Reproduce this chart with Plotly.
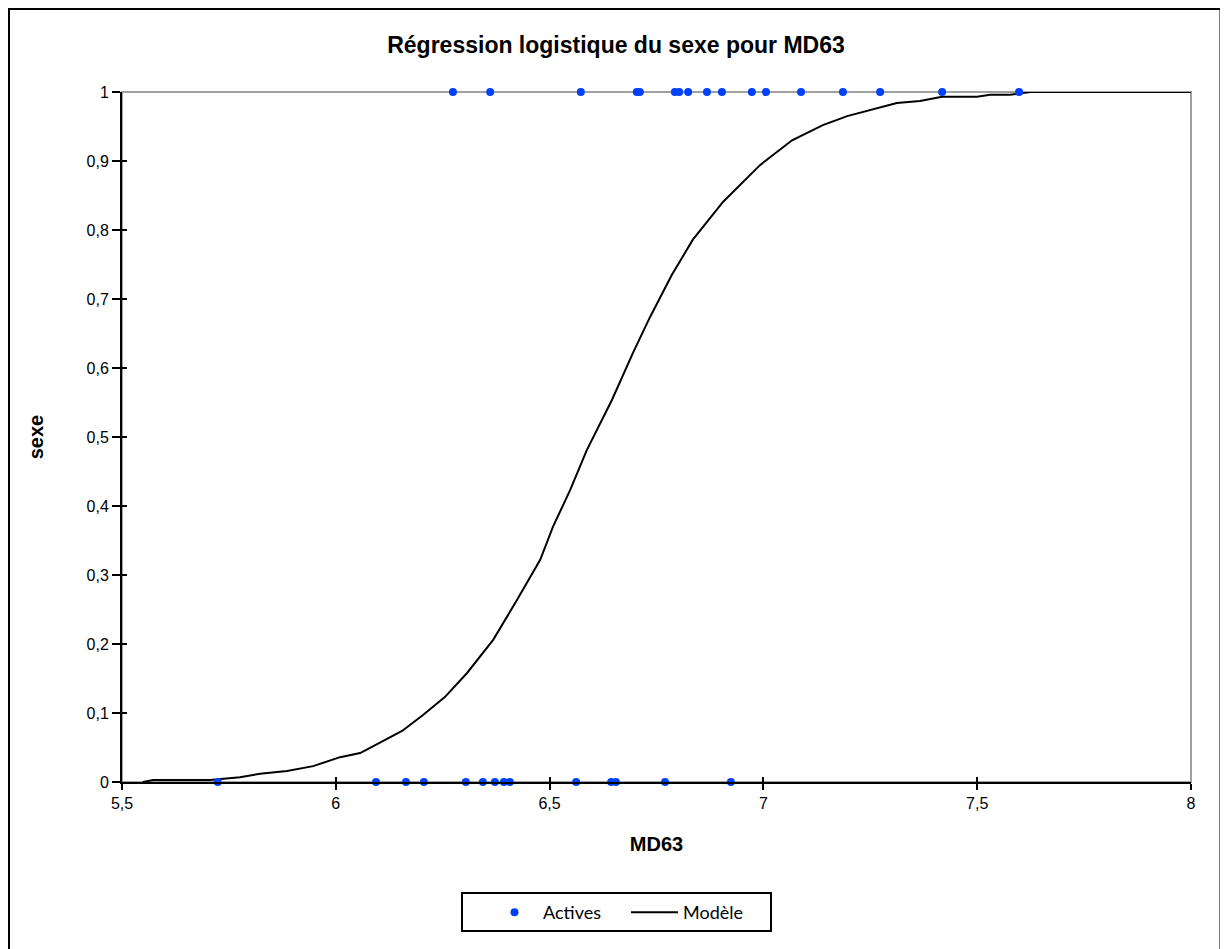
import plotly.graph_objects as go

# Observations (Actives)
actives_x_1 = [6.274, 6.361, 6.573, 6.704, 6.711, 6.793, 6.803, 6.824, 6.868, 6.903,
               6.973, 7.006, 7.088, 7.186, 7.273, 7.418, 7.598]
actives_x_0 = [5.724, 6.094, 6.164, 6.206, 6.304, 6.344, 6.372, 6.393, 6.407, 6.562,
               6.644, 6.655, 6.770, 6.924]

# Model curve (Modèle)
model_x = [5.549, 5.573, 5.706, 5.776, 5.823, 5.886, 5.947, 6.010, 6.057, 6.103,
           6.155, 6.204, 6.255, 6.307, 6.368, 6.424, 6.478, 6.508, 6.548, 6.587,
           6.625, 6.646, 6.695, 6.735, 6.786, 6.835, 6.906, 6.992, 7.067, 7.139,
           7.196, 7.249, 7.312, 7.366, 7.418, 7.500, 7.530, 7.577, 7.624, 8.000]
model_y = [0.000, 0.003, 0.003, 0.007, 0.012, 0.016, 0.023, 0.036, 0.042, 0.057,
           0.074, 0.097, 0.123, 0.158, 0.206, 0.264, 0.322, 0.370, 0.423, 0.481,
           0.529, 0.554, 0.622, 0.674, 0.735, 0.786, 0.841, 0.894, 0.930, 0.952,
           0.965, 0.974, 0.984, 0.987, 0.993, 0.993, 0.996, 0.996, 1.000, 1.000]

x_tickvals = [5.5, 6, 6.5, 7, 7.5, 8]
x_ticktext = ["5,5", "6", "6,5", "7", "7,5", "8"]
y_tickvals = [0, 0.1, 0.2, 0.3, 0.4, 0.5, 0.6, 0.7, 0.8, 0.9, 1]
y_ticktext = ["0", "0,1", "0,2", "0,3", "0,4", "0,5", "0,6", "0,7", "0,8", "0,9", "1"]

pts_x = actives_x_1 + actives_x_0
pts_y = [1] * len(actives_x_1) + [0] * len(actives_x_0)

BLUE = "#0040F8"
AX_FONT = "Liberation Sans, Arial, sans-serif"
LEG_FONT = "Lato, Liberation Sans, sans-serif"

# the page body has an 8px margin; the figure is sized to fill the rest
W, H = 1220, 941
L, R, T, B = 114, 37, 84, 167
PW, PH = W - L - R, H - T - B


def px_x(page_x):
    return (page_x - 8 - L) / PW


def px_y(page_y):
    return (T + PH - (page_y - 8)) / PH


fig = go.Figure()
fig.add_trace(go.Scatter(x=model_x, y=model_y, mode="lines", name="Modèle",
                         line=dict(color="black", width=2), xaxis="x", yaxis="y"))
fig.add_trace(go.Scatter(x=pts_x, y=pts_y, mode="markers", name="Actives",
                         marker=dict(color=BLUE, size=8), xaxis="x2", yaxis="y2",
                         cliponaxis=False))

xr = [5.5, 8]
yr = [0, 1]
common_x = dict(range=xr, tickvals=x_tickvals, ticktext=x_ticktext, showgrid=False,
                zeroline=False, tickwidth=2, tickcolor="black")
common_y = dict(range=yr, tickvals=y_tickvals, ticktext=y_ticktext, showgrid=False,
                zeroline=False, tickwidth=2, tickcolor="black")

fig.update_layout(
    width=W, height=H,
    margin=dict(l=L, r=R, t=T, b=B),
    paper_bgcolor="white", plot_bgcolor="white",
    title=dict(text="<b>Régression logistique du sexe pour MD63</b>",
               x=(616 - 8) / W, xref="container", xanchor="center",
               y=1 - (45 - 8) / H, yref="container", yanchor="middle",
               font=dict(family=AX_FONT, size=23, color="black")),
    xaxis=dict(**common_x, ticks="outside", ticklen=6, showline=True, linecolor="black",
               linewidth=2, tickfont=dict(family=AX_FONT, size=16, color="black"),
               title=dict(text="<b>MD63</b>", standoff=26,
                          font=dict(family=AX_FONT, size=20, color="black"))),
    yaxis=dict(**common_y, ticks="outside", ticklen=8, showline=True, linecolor="black",
               linewidth=2, tickfont=dict(family=AX_FONT, size=16, color="black"),
               title=dict(text="<b>sexe</b>", standoff=38,
                          font=dict(family=AX_FONT, size=20, color="black"))),
    xaxis2=dict(**common_x, overlaying="x", anchor="y2", side="bottom", ticks="inside",
                ticklen=5, showticklabels=False, showline=False),
    yaxis2=dict(**common_y, overlaying="y", anchor="x2", side="left", ticks="inside",
                ticklen=5, showticklabels=False, showline=False),
    legend=dict(orientation="h", x=(486 - 8) / W, xref="container", xanchor="left",
                y=1 - (894 - 8) / H, yref="container", yanchor="top",
                borderwidth=0, bgcolor="rgba(0,0,0,0)",
                font=dict(family=LEG_FONT, size=18, color="black"),
                traceorder="reversed", itemwidth=47,
                entrywidth=78, entrywidthmode="pixels"),
    showlegend=True,
    shapes=[
        dict(type="rect", xref="x domain", yref="y domain", x0=0, x1=1, y0=0, y1=1,
             line=dict(color="#A0A0A0", width=2), layer="below"),
        dict(type="rect", xref="paper", yref="paper",
             x0=px_x(8.5), x1=px_x(1221), y0=px_y(954), y1=px_y(8.5),
             line=dict(color="black", width=3)),
        dict(type="rect", xref="paper", yref="paper",
             x0=px_x(462), x1=px_x(771), y0=px_y(931), y1=px_y(893),
             line=dict(color="black", width=2)),
    ],
)

fig.write_html("out.html")
